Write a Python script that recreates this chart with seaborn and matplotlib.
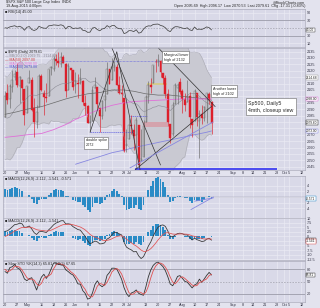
import numpy as np
import pandas as pd
import seaborn as sns
import matplotlib
matplotlib.use("Agg")
import matplotlib.pyplot as plt
from matplotlib.transforms import blended_transform_factory

# warm-up history 2-Mar .. 17-Apr 2015, only feeds the indicators
pre_close = [2117.4, 2107.8, 2098.5, 2101.0, 2071.3, 2079.4, 2044.2, 2040.2, 2065.9, 2053.4,
             2081.2, 2074.3, 2099.5, 2089.3, 2108.1, 2104.4, 2091.5, 2061.0, 2056.1, 2061.0,
             2086.2, 2067.9, 2059.7, 2067.0, 2080.6, 2076.3, 2081.9, 2091.2, 2102.1, 2092.4,
             2095.8, 2106.6, 2105.0, 2081.2]
pre_high = [2113.9, 2114.9, 2107.6, 2097.4, 2067.2, 2062.8, 2089.0, 2084.0, 2067.9, 2072.2,
            2087.0, 2089.8, 2086.7, 2093.3, 2102.6, 2107.7, 2098.3, 2111.9, 2107.9, 2102.0]
pre_low = [2090.0, 2104.4, 2091.5, 2061.0, 2045.5, 2053.0, 2064.0, 2067.0, 2048.4, 2057.3,
           2056.5, 2076.1, 2073.3, 2074.3, 2090.8, 2092.3, 2083.2, 2097.3, 2100.3, 2072.4]

# $SPX daily candles, 20-Apr .. 19-Aug 2015
opens = [2084.1, 2102.8, 2098.3, 2107.2, 2114.8, 2119.3, 2108.4, 2112.5, 2105.5, 2087.4,
         2110.2, 2112.6, 2091.3, 2080.0, 2092.1, 2115.6, 2102.9, 2099.6, 2100.4, 2122.1,
         2121.3, 2129.5, 2127.8, 2125.6, 2130.4, 2125.3, 2105.1, 2122.3, 2120.7, 2108.6,
         2110.4, 2110.6, 2112.4, 2095.1, 2092.3, 2079.1, 2081.1, 2106.2, 2107.4, 2091.3,
         2084.3, 2097.4, 2101.6, 2121.1, 2112.5, 2123.2, 2123.2, 2109.1, 2102.6, 2098.6,
         2061.2, 2067.0, 2078.0, 2074.0, 2069.5, 2077.7, 2049.7, 2052.7, 2080.0, 2099.3,
         2109.0, 2110.6, 2126.8, 2126.9, 2127.6, 2118.2, 2114.2, 2102.2, 2078.2, 2070.8,
         2094.1, 2106.8, 2111.6, 2104.5, 2097.7, 2095.3, 2100.1, 2082.6, 2081.0, 2102.7,
         2081.1, 2086.2, 2083.2, 2089.7, 2102.0, 2095.7]
highs = [2103.9, 2109.6, 2110.0, 2120.5, 2120.9, 2125.9, 2116.0, 2113.7, 2105.5, 2108.4,
         2121.0, 2115.2, 2098.4, 2092.9, 2117.7, 2117.7, 2105.1, 2110.2, 2121.5, 2123.9,
         2131.8, 2133.0, 2134.7, 2134.3, 2132.2, 2126.2, 2126.1, 2122.3, 2120.7, 2119.2,
         2117.6, 2121.9, 2112.9, 2101.0, 2093.0, 2085.6, 2108.5, 2115.0, 2107.4, 2091.3,
         2097.4, 2106.8, 2126.7, 2121.6, 2129.9, 2128.0, 2125.1, 2116.0, 2108.9, 2098.6,
         2074.3, 2082.8, 2085.1, 2078.6, 2083.7, 2077.7, 2074.3, 2081.3, 2100.7, 2112.0,
         2114.1, 2124.4, 2128.9, 2132.8, 2128.5, 2118.5, 2116.9, 2106.0, 2078.2, 2095.6,
         2110.6, 2110.5, 2114.2, 2105.7, 2102.5, 2112.7, 2103.3, 2082.6, 2105.4, 2102.7,
         2089.1, 2092.9, 2092.5, 2102.9, 2103.5, 2096.2]
lows = [2084.1, 2094.4, 2091.1, 2103.2, 2112.8, 2107.0, 2094.9, 2097.4, 2077.6, 2087.4,
        2110.2, 2088.5, 2067.9, 2075.0, 2092.1, 2104.6, 2085.6, 2096.0, 2100.4, 2116.8,
        2120.0, 2124.5, 2122.6, 2122.9, 2126.1, 2099.2, 2105.1, 2112.9, 2104.9, 2102.5,
        2099.1, 2109.6, 2093.2, 2085.7, 2079.1, 2072.1, 2081.1, 2106.2, 2091.3, 2072.5,
        2082.1, 2088.9, 2101.6, 2109.5, 2112.5, 2119.9, 2108.6, 2101.8, 2095.4, 2056.6,
        2056.3, 2067.0, 2071.0, 2058.4, 2044.0, 2044.5, 2049.7, 2052.7, 2080.0, 2095.0,
        2102.5, 2110.6, 2119.4, 2123.7, 2115.4, 2110.0, 2098.6, 2077.1, 2063.5, 2069.1,
        2094.1, 2094.1, 2102.1, 2087.3, 2088.6, 2095.3, 2075.5, 2067.9, 2081.0, 2076.5,
        2052.1, 2078.3, 2080.6, 2079.3, 2094.1, 2070.5]
closes = [2100.4, 2097.3, 2108.0, 2112.9, 2117.7, 2108.9, 2114.8, 2106.9, 2085.5, 2108.3,
          2114.5, 2089.5, 2080.2, 2088.0, 2116.1, 2105.3, 2099.9, 2098.5, 2121.1, 2122.7,
          2129.2, 2127.8, 2125.9, 2130.8, 2126.1, 2104.2, 2123.5, 2120.8, 2107.4, 2111.7,
          2109.6, 2114.1, 2095.8, 2092.8, 2079.3, 2080.2, 2105.2, 2108.9, 2094.1, 2084.4,
          2096.3, 2100.4, 2121.2, 2110.0, 2122.9, 2124.2, 2108.6, 2102.3, 2101.5, 2057.6,
          2063.1, 2077.4, 2076.8, 2068.8, 2081.3, 2046.7, 2051.3, 2076.6, 2099.6, 2109.0,
          2107.4, 2124.3, 2126.6, 2128.3, 2119.2, 2114.2, 2102.2, 2079.7, 2067.6, 2093.3,
          2108.6, 2108.6, 2103.8, 2098.0, 2093.3, 2099.8, 2083.6, 2077.6, 2104.2, 2084.1,
          2086.1, 2083.4, 2091.5, 2102.4, 2096.9, 2079.6]

# slower averages, one value per week
ma_week_x = [0, 5, 9, 15, 20, 25, 29, 34, 39, 44, 49, 53, 58, 63, 68, 73, 78, 83, 85]
ma50_week = [2086, 2088, 2090, 2092, 2095, 2098, 2100, 2102, 2103, 2105, 2105, 2104,
             2102, 2101, 2101, 2100, 2099, 2098, 2097]
ma100_week = [2068, 2069, 2070, 2071, 2074, 2078, 2082, 2086, 2090, 2093, 2095, 2096,
              2096.5, 2097, 2097.5, 2098, 2098, 2098, 2098]
ma200_x = [29, 34, 39, 44, 49, 53, 58, 63, 68, 73, 78, 83, 85]
ma200_week = [2047, 2050, 2053, 2056, 2058, 2060, 2062, 2064, 2066, 2068, 2070, 2072, 2073]

# date axis
tick_pos = [0, 5, 9, 15, 20, 25, 29, 34, 39, 44, 49, 51, 58, 63, 68, 73, 78, 83, 88, 94,
            98, 102, 107, 112, 115, 117, 122]
tick_lbl = ['20', '27', 'May', '11', '18', '26', 'Jun', '8', '15', '22', '29', 'Jul', '13',
            '20', '27', 'Aug', '10', '17', '24', 'Sep', '8', '14', '21', '28', 'Oct', '5', '12']

# hand-drawn lines on the price panel (x = trading day, y = price)
trend_x = [[35, 46], [44, 64], [46, 55.6], [53.5, 85.2], [62, 86.5]]
trend_y = [[2072, 2134.7], [2137.8, 2046.4], [2134.7, 2042.5], [2042.5, 2092.5], [2140, 2092]]
purple_x = [51.4, 85.6]
purple_y = [2044.1, 2080.0]

FIG_BG = '#e3e3ee'
AX_BG = '#d9d9e8'
GRID = '#ebebf4'
RED = '#dd1f2b'
HIST = '#2a8bc6'
PINK = '#e070d8'
LAV = '#8888e0'
FS = 2.7

sns.set_theme(style="white")
plt.rcParams['font.family'] = ['Liberation Sans', 'DejaVu Sans']

n = len(closes)
x = np.arange(n)

# indicators from the closes
c_all = pd.Series(pre_close + closes, dtype=float)
ema12 = c_all.ewm(span=12, adjust=False).mean()
ema26 = c_all.ewm(span=26, adjust=False).mean()
macd = (ema12 - ema26)
signal = macd.ewm(span=9, adjust=False).mean()
hist = (macd - signal).iloc[-n:].to_numpy()
macd = macd.iloc[-n:].to_numpy()
signal = signal.iloc[-n:].to_numpy()

delta = c_all.diff()
gain = delta.clip(lower=0).ewm(alpha=1 / 14, adjust=False).mean()
loss = (-delta.clip(upper=0)).ewm(alpha=1 / 14, adjust=False).mean()
rsi = (100 - 100 / (1 + gain / loss)).iloc[-n:].to_numpy()

mid = c_all.rolling(20).mean()
sd = c_all.rolling(20).std(ddof=0)
bb_up = (mid + 2 * sd).iloc[-n:].to_numpy()
bb_lo = (mid - 2 * sd).iloc[-n:].to_numpy()
bb_mid = mid.iloc[-n:].to_numpy()

h_all = pd.Series([np.nan] * 14 + pre_high + highs, dtype=float)
l_all = pd.Series([np.nan] * 14 + pre_low + lows, dtype=float)
hh = h_all.rolling(14).max()
ll = l_all.rolling(14).min()
fast_k = 100 * (c_all - ll) / (hh - ll)
slow_k = fast_k.rolling(3).mean()
slow_d = slow_k.rolling(3).mean()
sto_k = slow_k.iloc[-n:].to_numpy(dtype=float)
sto_d = slow_d.iloc[-n:].to_numpy(dtype=float)

# layout in pixels of the 320x308 picture
W, H = 320, 308
X0 = 5
PXD = 2.43
XMIN = (3 - X0) / PXD
XMAX = (305 - X0) / PXD

fig = plt.figure(figsize=(W / 100, H / 100), dpi=100, facecolor=FIG_BG)


def panel(top, bottom):
    ax = fig.add_axes([3 / W, 1 - bottom / H, 302 / W, (bottom - top) / H])
    ax.set_facecolor(AX_BG)
    ax.set_xlim(XMIN, XMAX)
    ax.yaxis.tick_right()
    ax.tick_params(axis='y', length=0, labelsize=FS, pad=1.5, labelcolor='#333344')
    ax.tick_params(axis='x', length=0, labelbottom=False, labelsize=FS, pad=0.8,
                   labelcolor='#333344')
    ax.set_xticks(tick_pos)
    ax.set_xticklabels(tick_lbl)
    ax.grid(True, color=GRID, lw=0.45)
    ax.set_axisbelow(True)
    for s in ax.spines.values():
        s.set_color('#a0a0b0')
        s.set_linewidth(0.4)
    return ax


def value_box(ax, y, txt, ec):
    ax.text(1.004, y, txt, transform=blended_transform_factory(ax.transAxes, ax.transData),
            fontsize=FS - 0.4, va='center', ha='left', color='#222', zorder=5,
            bbox=dict(boxstyle='square,pad=0.12', fc='white', ec=ec, lw=0.35))


def ticks_clear_of(ax, ticks, boxes, gap):
    # the value boxes sit on the right axis, so leave out tick labels under them
    ax.set_yticks(ticks)
    ax.set_yticklabels([f'{t:g}' if all(abs(t - b) > gap for b in boxes) else ''
                        for t in ticks])


# header
fig.text(6 / W, 1 - 2.5 / H, '$SPX S&P 500 Large Cap Index  INDX', fontsize=FS, va='center')
fig.text(6 / W, 1 - 6 / H, '19-Aug-2015 4:00pm', fontsize=FS, va='center')
fig.text(305 / W, 1 - 2.5 / H, '@StockCharts.com', fontsize=FS, va='center', ha='right')
fig.text(305 / W, 1 - 6 / H,
         'Open 2095.69  High 2096.17  Low 2070.53  Last 2079.61  Chg -17.31 (-0.83%)',
         fontsize=FS, va='center', ha='right')

# RSI
ax_rsi = panel(9, 47)
ax_rsi.set_ylim(0, 100)
ticks_clear_of(ax_rsi, [10, 30, 50, 70, 90], [rsi[-1]], 6)
ax_rsi.axhline(70, color='#8a8a9a', lw=0.5)
ax_rsi.axhline(30, color='#8a8a9a', lw=0.5)
ax_rsi.axhline(50, color='#8a8a9a', lw=0.4, ls=(0, (3, 2)))
sns.lineplot(x=x, y=rsi, ax=ax_rsi, color='#444', lw=0.55, legend=False)
ax_rsi.text(0.005, 0.97, f'\u25a0 RSI(14) {rsi[-1]:.2f}', transform=ax_rsi.transAxes,
            fontsize=FS, va='top')
value_box(ax_rsi, rsi[-1], f'{rsi[-1]:.2f}', '#444')

# price
ax_p = panel(48, 170)
ax_p.set_ylim(2042.5, 2137.8)
ax_p.tick_params(axis='x', labelbottom=True)
ax_p.fill_between(x, bb_lo, bb_up, color='#c9c9d2', lw=0)
sns.lineplot(x=x, y=bb_up, ax=ax_p, color='#ababb5', lw=0.4, legend=False)
sns.lineplot(x=x, y=bb_lo, ax=ax_p, color='#ababb5', lw=0.4, legend=False)
sns.lineplot(x=x, y=bb_mid, ax=ax_p, color='#8c8c96', lw=0.4, legend=False)
sns.lineplot(x=ma_week_x, y=ma50_week, ax=ax_p, color='#6a6a6a', lw=0.5, legend=False)
sns.lineplot(x=ma_week_x, y=ma100_week, ax=ax_p, color=PINK, lw=0.6, legend=False)
sns.lineplot(x=ma200_x, y=ma200_week, ax=ax_p, color=LAV, lw=0.6, legend=False)

# drawn levels and zones
ax_p.hlines(2127.7, 22.6, 63.8, color='#6060e0', lw=0.5, ls=(0, (1, 1)))
ax_p.hlines(2072.0, 35, 53, color='#6060e0', lw=0.5, ls=(0, (2, 1)))
ax_p.hlines(2084.7, 51.4, 58.4, color='#6060e0', lw=0.5, ls=(0, (2, 1)))
ax_p.hlines(2043.3, 53.5, 112, color='#4040f0', lw=1.3)
ax_p.fill_between([56.8, 67.1], 2076.1, 2080.0, color='#d89aa4', alpha=0.8, lw=0)
ax_p.fill_between([58.4, 66.7], 2108.9, 2110.5, color='#d6cc88', alpha=0.9, lw=0)

# candles
for i in range(n):
    o, h, l, c = opens[i], highs[i], lows[i], closes[i]
    down = c < o
    ax_p.vlines(i, l, h, color=RED if down else '#6a6a6a', lw=0.45)
    ax_p.bar(i, max(abs(c - o), 0.5), bottom=min(o, c), width=0.8,
             color=RED if down else '#d4d4d8', edgecolor=RED if down else '#6a6a6a', lw=0.3)

for tx, ty in zip(trend_x, trend_y):
    ax_p.plot(tx, ty, color='#333', lw=0.5)
ax_p.plot(purple_x, purple_y, color=LAV, lw=0.6)

leg = [('\u25a0 $SPX (Daily) 2079.61', '#222'),
       (f'\u2014 BB(20,2.0) {bb_lo[-1]:.2f} - {bb_up[-1]:.2f}', '#8c8c96'),
       (f'\u2014 MA(50) {ma50_week[-1]:.2f}', '#d04040'),
       (f'\u2014 MA(100) {ma100_week[-1]:.2f}', PINK),
       (f'\u2014 MA(200) {ma200_week[-1]:.2f}', '#5050d0')]
for k, (t, col) in enumerate(leg):
    ax_p.text(0.005, 0.985 - k * 0.032, t, transform=ax_p.transAxes, fontsize=FS - 0.2,
              va='top', color=col)

box = dict(boxstyle='square,pad=0.35', fc='white', ec='#666', lw=0.4)
ax_p.text(33.2, 2067.2, 'double spike\n2072', fontsize=FS, va='top', ha='left',
          bbox=box, linespacing=1.3)
ax_p.text(65.3, 2134.2, 'Marginal lower\nhigh of 2132', fontsize=FS, va='top', ha='left',
          bbox=box, linespacing=1.3)
ax_p.text(85.5, 2107.6, 'Another lower\nhigh of 2102', fontsize=FS, va='top', ha='left',
          bbox=box, linespacing=1.3)
ax_p.text(100, 2096.5, 'Sp500, Daily5\n4mth, closeup view', fontsize=FS + 1.1, va='top',
          ha='left', bbox=dict(boxstyle='square,pad=0.45', fc='white', ec='#666', lw=0.4),
          linespacing=1.5)

p_boxes = [(bb_up[-1], '#999'), (ma100_week[-1], PINK), (closes[-1], '#222'),
           (ma200_week[-1], LAV)]
ticks_clear_of(ax_p, list(range(2045, 2140, 5)), [b for b, _ in p_boxes], 2.6)
for b, col in p_boxes:
    value_box(ax_p, b, f'{b:.2f}', col)

# MACD histogram
ax_h = panel(176, 218)
hr = max(abs(hist.min()), abs(hist.max()))
ax_h.set_ylim(-hr * 1.05, hr * 1.05)
ax_h.bar(x, hist, width=0.75, color=HIST, lw=0)
ax_h.axhline(0, color='#9a9aaa', lw=0.3)
ax_h.text(0.005, 0.97, f'\u25a0 MACD(12,26,9) {macd[-1]:.3f}, {signal[-1]:.3f}, {hist[-1]:.3f}',
          transform=ax_h.transAxes, fontsize=FS, va='top')
tr = blended_transform_factory(ax_h.transData, ax_h.transAxes)
ax_h.plot([76.5, 85.8], [0.2, 0.5], color=LAV, lw=0.6, transform=tr)
ax_h.plot([78, 85.8], [0.4, 0.48], color=LAV, lw=0.6, transform=tr)
h_ticks = [-4, -2, 0, 2, 4]
ticks_clear_of(ax_h, h_ticks, [hist[-1]], hr * 0.18)
value_box(ax_h, hist[-1], f'{hist[-1]:.3f}', HIST)

# MACD lines
ax_m = panel(218, 260)
lo = min(macd.min(), signal.min())
hi = max(macd.max(), signal.max())
ax_m.set_ylim(lo - 0.8, hi + 0.8)
ax_m.bar(x, hist, width=0.75, color=HIST, lw=0)
sns.lineplot(x=x, y=macd, ax=ax_m, color='#333', lw=0.55, legend=False)
sns.lineplot(x=x, y=signal, ax=ax_m, color='#e05050', lw=0.55, legend=False)
ax_m.text(0.005, 0.97, f'\u25a0 MACD(12,26,9) {macd[-1]:.3f}, {signal[-1]:.3f}',
          transform=ax_m.transAxes, fontsize=FS, va='top')
m_ticks = [-12.5, -10, -7.5, -5, -2.5, 0, 2.5, 5, 7.5, 10]
ticks_clear_of(ax_m, m_ticks, [macd[-1], signal[-1]], 1.4)
value_box(ax_m, macd[-1], f'{macd[-1]:.3f}', '#333')
value_box(ax_m, signal[-1] - 1.2, f'{signal[-1]:.3f}', '#e05050')

# slow stochastics
ax_s = panel(261, 302)
ax_s.set_ylim(0, 100)
ax_s.axhline(80, color='#8a8a9a', lw=0.5)
ax_s.axhline(20, color='#8a8a9a', lw=0.5)
ax_s.axhline(50, color='#8a8a9a', lw=0.4, ls=(0, (3, 2)))
sns.lineplot(x=x, y=sto_k, ax=ax_s, color='#333', lw=0.6, legend=False)
sns.lineplot(x=x, y=sto_d, ax=ax_s, color='#e05050', lw=0.6, legend=False)
ax_s.tick_params(axis='x', labelbottom=True)
ax_s.text(0.005, 0.97, f'\u25a0 Slow STO %K(14,3) {sto_k[-1]:.2f}, %D(3) {sto_d[-1]:.2f}',
          transform=ax_s.transAxes, fontsize=FS, va='top')
ticks_clear_of(ax_s, [20, 50, 80], [sto_k[-1]], 7)
value_box(ax_s, sto_k[-1], f'{sto_k[-1]:.2f}', '#333')

fig.savefig('out.png', dpi=100, facecolor=FIG_BG)
